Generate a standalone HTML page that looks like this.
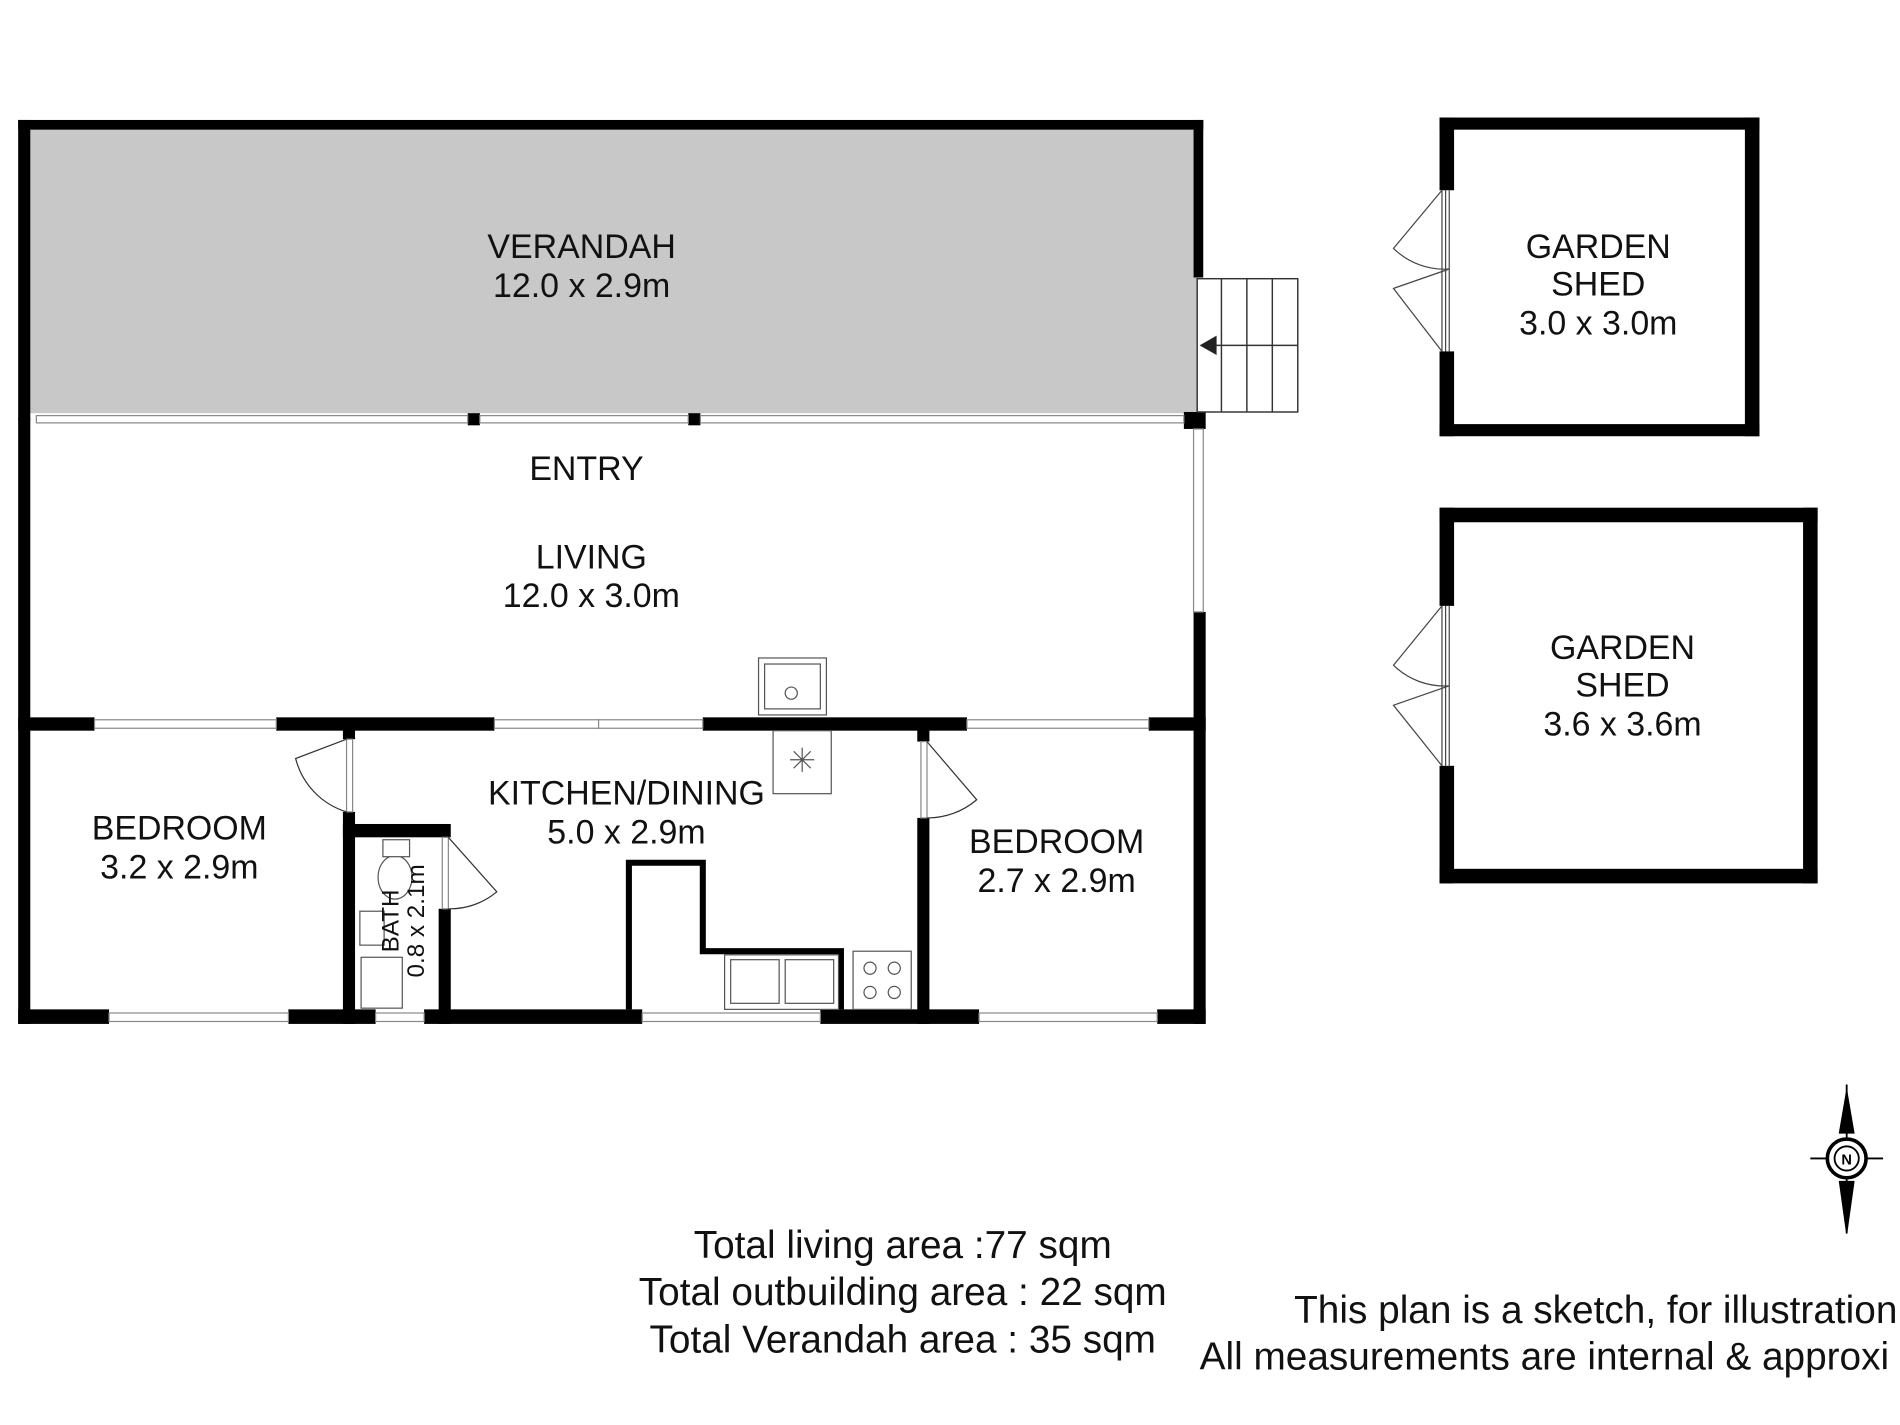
<!DOCTYPE html>
<html><head><style>html,body{margin:0;padding:0;background:#fff}svg{display:block}</style></head>
<body>
<svg width="1900" height="1425" viewBox="0 0 1568 1176" xmlns="http://www.w3.org/2000/svg" font-family="Liberation Sans, sans-serif">
<rect width="1568" height="1176" fill="#fff"/>
<rect x="22" y="105" width="966" height="236" fill="#c8c8c8"/>
<g fill="#000">
<rect x="15" y="99" width="978" height="8"/>
<rect x="15" y="99" width="10" height="248"/>
<rect x="985" y="99" width="8" height="130"/>
<rect x="15" y="345" width="10" height="500"/>
<rect x="386" y="341" width="10" height="10"/>
<rect x="568" y="341" width="10" height="10"/>
<rect x="977" y="340" width="18" height="14"/>
<rect x="985" y="505" width="10" height="340"/>
<rect x="15" y="592" width="63" height="11"/>
<rect x="228" y="592" width="180" height="11"/>
<rect x="580" y="592" width="218" height="11"/>
<rect x="948" y="592" width="47" height="11"/>
<rect x="15" y="833" width="75" height="12"/>
<rect x="238" y="833" width="72" height="12"/>
<rect x="350" y="833" width="180" height="12"/>
<rect x="677" y="833" width="131" height="12"/>
<rect x="955" y="833" width="40" height="12"/>
<rect x="283" y="602" width="10" height="8"/>
<rect x="283" y="670" width="10" height="175"/>
<rect x="283" y="680" width="89" height="11"/>
<rect x="362" y="750" width="10" height="95"/>
<rect x="757" y="602" width="10" height="10"/>
<rect x="757" y="675" width="10" height="170"/>
</g>
<g fill="#fff" stroke="#888" stroke-width="1">
<rect x="30" y="343" width="356" height="6"/>
<rect x="396" y="343" width="172" height="6"/>
<rect x="578" y="343" width="399" height="6"/>
<rect x="985" y="354" width="8" height="151"/>
<rect x="78" y="594" width="150" height="7"/>
<rect x="408" y="594" width="86" height="7"/>
<rect x="494" y="594" width="86" height="7"/>
<rect x="798" y="594" width="150" height="7"/>
<rect x="90" y="836" width="148" height="7"/>
<rect x="310" y="836" width="40" height="7"/>
<rect x="530" y="836" width="147" height="7"/>
<rect x="808" y="836" width="147" height="7"/>
<rect x="286" y="610" width="5" height="60"/>
<rect x="365" y="691" width="5" height="59"/>
<rect x="760" y="612" width="5" height="63"/>
</g>
<g fill="none" stroke="#333" stroke-width="1">
<path d="M286 610 L244 626 A62 62 0 0 0 286 670"/>
<path d="M370 691 L410 736 A60 60 0 0 1 370 750"/>
<path d="M765 612 L806 660 A62 62 0 0 1 765 675"/>
</g>
<path d="M519 833 V712 H580 V785 H694 V833" fill="none" stroke="#000" stroke-width="5"/>
<g fill="#fff" stroke="#555" stroke-width="1">
<rect x="598" y="788" width="94" height="45"/>
<rect x="603" y="792" width="40" height="36"/>
<rect x="648" y="792" width="40" height="36"/>
<rect x="704" y="785" width="48" height="48"/>
<circle cx="718" cy="799" r="5"/><circle cx="738" cy="799" r="5"/>
<circle cx="718" cy="819" r="5"/><circle cx="738" cy="819" r="5"/>
<rect x="638" y="603" width="48" height="52"/>
<rect x="626" y="543" width="56" height="47"/>
<rect x="631" y="548" width="46" height="37"/>
<circle cx="653" cy="572" r="5"/>
<path d="M662 617 L662 637 M652 627 L672 627 M655 620 L669 634 M669 620 L655 634"/>
<rect x="298" y="790" width="34" height="42"/>
<rect x="297" y="752" width="20" height="28"/>
<ellipse cx="326" cy="724" rx="14" ry="18"/>
<rect x="316" y="693" width="22" height="14"/>
</g>
<g fill="#fff" stroke="#333" stroke-width="1.2">
<rect x="988" y="230" width="83" height="110"/>
<path d="M1008 230V340 M1029 230V340 M1050 230V340 M1003 285H1071"/>
</g>
<path d="M990 285 L1004 277 L1004 293 Z" fill="#222"/>
<g fill="#000">
<rect x="1188" y="97" width="264" height="10"/>
<rect x="1188" y="350" width="264" height="10"/>
<rect x="1440" y="97" width="12" height="263"/>
<rect x="1188" y="97" width="12" height="60"/>
<rect x="1188" y="290" width="12" height="70"/>
<rect x="1188" y="419" width="312" height="12"/>
<rect x="1188" y="717" width="312" height="12"/>
<rect x="1488" y="419" width="12" height="310"/>
<rect x="1188" y="419" width="12" height="81"/>
<rect x="1188" y="632" width="12" height="97"/>
</g>
<g fill="none" stroke="#444" stroke-width="1">
<path d="M1190 157V290 M1193 157V290 M1196 157V290"/>
<path d="M1190 157 L1150 205 A60 60 0 0 0 1196 222 L1150 238 L1190 290"/>
<path d="M1190 500V632 M1193 500V632 M1196 500V632"/>
<path d="M1190 500 L1150 549 A60 60 0 0 0 1196 566 L1150 582 L1190 632"/>
</g>
<g stroke="#000" fill="#000">
<line x1="1524" y1="895" x2="1524" y2="1018" stroke-width="1.5"/>
<path d="M1518 935 L1524 900 L1530 935 Z"/>
<path d="M1518 975 L1524 1018 L1530 975 Z"/>
<line x1="1494" y1="956" x2="1554" y2="956" stroke-width="1.5"/>
<circle cx="1524" cy="956" r="16" fill="#fff" stroke-width="3"/>
<circle cx="1524" cy="956" r="10" fill="#fff" stroke-width="1.5"/>
</g>
<text x="1524" y="961" font-size="12" font-weight="bold" text-anchor="middle">N</text>
<g font-size="28" text-anchor="middle" fill="#111">
<text x="480" y="213">VERANDAH</text>
<text x="480" y="245">12.0 x 2.9m</text>
<text x="484" y="396">ENTRY</text>
<text x="488" y="469">LIVING</text>
<text x="488" y="501">12.0 x 3.0m</text>
<text x="148" y="693">BEDROOM</text>
<text x="148" y="725">3.2 x 2.9m</text>
<text x="517" y="664">KITCHEN/DINING</text>
<text x="517" y="696">5.0 x 2.9m</text>
<text x="872" y="704">BEDROOM</text>
<text x="872" y="736">2.7 x 2.9m</text>
<text x="1319" y="213">GARDEN</text>
<text x="1319" y="244">SHED</text>
<text x="1319" y="276">3.0 x 3.0m</text>
<text x="1339" y="544">GARDEN</text>
<text x="1339" y="575">SHED</text>
<text x="1339" y="607">3.6 x 3.6m</text>
</g>
<g font-size="20" text-anchor="middle" fill="#111" transform="rotate(-90 337 760)">
<text x="337" y="752">BATH</text>
<text x="337" y="773">0.8 x 2.1m</text>
</g>
<g font-size="32" text-anchor="middle" fill="#111">
<text x="745" y="1038">Total living area :77 sqm</text>
<text x="745" y="1077">Total outbuilding area : 22 sqm</text>
<text x="745" y="1116">Total Verandah area : 35 sqm</text>
</g>
<g font-size="32" fill="#111">
<text x="1068" y="1092">This plan is a sketch, for illustration</text>
<text x="990" y="1130">All measurements are internal &amp; approxi</text>
</g>
</svg>
</body></html>
